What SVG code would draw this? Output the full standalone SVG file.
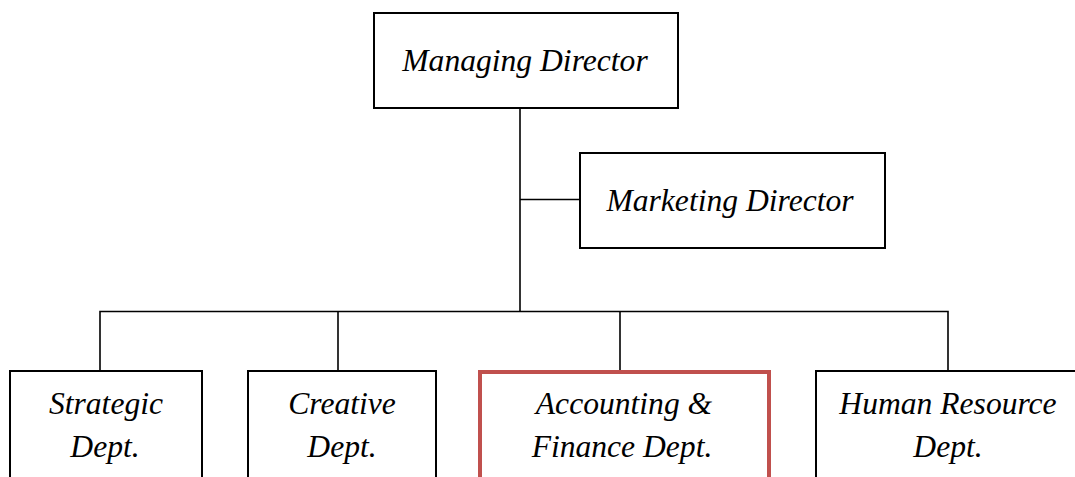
<svg xmlns="http://www.w3.org/2000/svg" width="1075" height="477" viewBox="0 0 1075 477">
<style>
.box{fill:#fff;stroke:#000;stroke-width:2}
.red{fill:#fff;stroke:#C0504D;stroke-width:4}
.t{font-family:"Liberation Serif","Times New Roman",serif;font-style:italic;font-size:31.6px;fill:#000;text-anchor:middle}
.c{fill:none;stroke:#000;stroke-width:1.6}
</style>
<rect width="1075" height="477" fill="#fff"/>
<g id="connectors">
<line class="c" x1="520" y1="108" x2="520" y2="311.5"/>
<line class="c" x1="520" y1="199.5" x2="580" y2="199.5"/>
<polyline class="c" points="100,371 100,311.5 948,311.5 948,371"/>
<line class="c" x1="338" y1="311.5" x2="338" y2="371"/>
<line class="c" x1="620" y1="311.5" x2="620" y2="371"/>
</g>
<g id="managing-director">
<rect class="box" x="374" y="13" width="304" height="95"/>
<text class="t" x="525" y="71">Managing Director</text>
</g>
<g id="marketing-director">
<rect class="box" x="580" y="153" width="305" height="95"/>
<text class="t" x="730" y="211">Marketing Director</text>
</g>
<g id="strategic">
<rect class="box" x="10" y="371" width="192" height="120"/>
<text class="t" x="106" y="414">Strategic</text>
<text class="t" x="105" y="457">Dept.</text>
</g>
<g id="creative">
<rect class="box" x="248" y="371" width="188" height="120"/>
<text class="t" x="342" y="414">Creative</text>
<text class="t" x="342" y="457">Dept.</text>
</g>
<g id="accounting">
<rect class="red" x="480" y="372" width="289" height="120"/>
<text class="t" x="624" y="414">Accounting &amp;</text>
<text class="t" x="622" y="457">Finance Dept.</text>
</g>
<g id="hr">
<rect class="box" x="816" y="371" width="270" height="120"/>
<text class="t" x="948" y="414">Human Resource</text>
<text class="t" x="948" y="457">Dept.</text>
</g>
</svg>
